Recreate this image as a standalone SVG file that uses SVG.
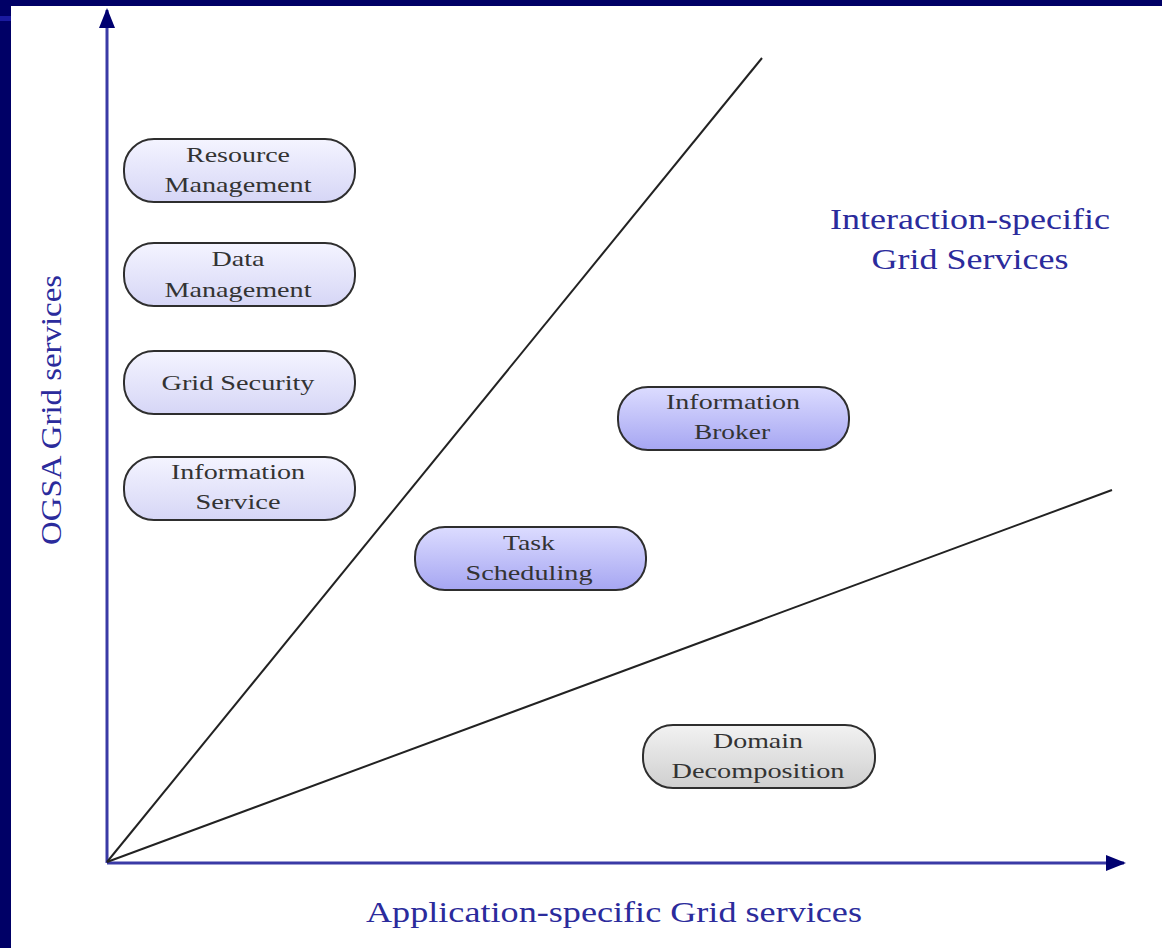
<svg xmlns="http://www.w3.org/2000/svg" width="1162" height="948" viewBox="0 0 1162 948">
  <defs>
    <linearGradient id="gLight" x1="0" y1="0" x2="0" y2="1">
      <stop offset="0" stop-color="#f4f4ff"/>
      <stop offset="1" stop-color="#d6d6f6"/>
    </linearGradient>
    <linearGradient id="gBlue" x1="0" y1="0" x2="0" y2="1">
      <stop offset="0" stop-color="#dcdcff"/>
      <stop offset="1" stop-color="#a6a6f2"/>
    </linearGradient>
    <linearGradient id="gGray" x1="0" y1="0" x2="0" y2="1">
      <stop offset="0" stop-color="#f2f2f2"/>
      <stop offset="1" stop-color="#cfcfcf"/>
    </linearGradient>
    <marker id="arrowHead" viewBox="0 0 20 20" refX="18" refY="10" markerWidth="20" markerHeight="20" orient="auto" markerUnits="userSpaceOnUse">
      <path d="M0,2 L20,10 L0,18 z" fill="#000070"/>
    </marker>
  </defs>
  <style>
    .node rect { stroke: #2e2e2e; stroke-width: 2; }
    .node text { font-family: "Liberation Serif", "Times New Roman", serif; font-size: 22px; fill: #333333; text-anchor: middle; }
    .axis { stroke: #3a3aa6; stroke-width: 3; fill: none; }
    .diag { stroke: #222222; stroke-width: 2; fill: none; }
    .label { font-family: "Liberation Serif", "Times New Roman", serif; font-size: 30px; fill: #2b2b9c; text-anchor: middle; }
  </style>

  <!-- page background and frame bands -->
  <rect x="0" y="0" width="1162" height="948" fill="#ffffff"/>
  <rect x="0" y="0" width="1162" height="6" fill="#000066"/>
  <rect x="0" y="0" width="11" height="948" fill="#000066"/>
  <rect x="0" y="16" width="11" height="5" fill="#1a1aa0"/>

  <!-- axes and dividing lines -->
  <g id="connectors">
    <line class="axis" x1="107" y1="863" x2="107" y2="10" marker-end="url(#arrowHead)"/>
    <line class="axis" x1="107" y1="863" x2="1124" y2="863" marker-end="url(#arrowHead)"/>
    <line class="diag" x1="107" y1="862" x2="762" y2="58"/>
    <line class="diag" x1="107" y1="862" x2="1112" y2="490"/>
  </g>

  <!-- axis and region labels -->
  <text class="label" x="614" y="922" textLength="496" lengthAdjust="spacingAndGlyphs">Application-specific Grid services</text>
  <text class="label" transform="translate(61,410) rotate(-90)" textLength="270" lengthAdjust="spacingAndGlyphs">OGSA Grid services</text>
  <text class="label" x="970" y="229" textLength="280" lengthAdjust="spacingAndGlyphs">Interaction-specific</text>
  <text class="label" x="970" y="269" textLength="197" lengthAdjust="spacingAndGlyphs">Grid Services</text>

  <g id="resource-management" class="node">
    <rect x="124" y="139" width="231" height="63" rx="30" fill="url(#gLight)"/>
    <text x="238" y="162" textLength="104" lengthAdjust="spacingAndGlyphs">Resource</text>
    <text x="238" y="192" textLength="147" lengthAdjust="spacingAndGlyphs">Management</text>
  </g>
  <g id="data-management" class="node">
    <rect x="124" y="243" width="231" height="63" rx="30" fill="url(#gLight)"/>
    <text x="238" y="266" textLength="53" lengthAdjust="spacingAndGlyphs">Data</text>
    <text x="238" y="297" textLength="147" lengthAdjust="spacingAndGlyphs">Management</text>
  </g>
  <g id="grid-security" class="node">
    <rect x="124" y="351" width="231" height="63" rx="30" fill="url(#gLight)"/>
    <text x="238" y="390" textLength="153" lengthAdjust="spacingAndGlyphs">Grid Security</text>
  </g>
  <g id="information-service" class="node">
    <rect x="124" y="457" width="231" height="63" rx="30" fill="url(#gLight)"/>
    <text x="238" y="479" textLength="134" lengthAdjust="spacingAndGlyphs">Information</text>
    <text x="238" y="509" textLength="85" lengthAdjust="spacingAndGlyphs">Service</text>
  </g>
  <g id="information-broker" class="node">
    <rect x="618" y="387" width="231" height="63" rx="30" fill="url(#gBlue)"/>
    <text x="733" y="409" textLength="134" lengthAdjust="spacingAndGlyphs">Information</text>
    <text x="732" y="439" textLength="76" lengthAdjust="spacingAndGlyphs">Broker</text>
  </g>
  <g id="task-scheduling" class="node">
    <rect x="415" y="527" width="231" height="63" rx="30" fill="url(#gBlue)"/>
    <text x="529" y="550" textLength="52" lengthAdjust="spacingAndGlyphs">Task</text>
    <text x="529" y="580" textLength="127" lengthAdjust="spacingAndGlyphs">Scheduling</text>
  </g>
  <g id="domain-decomposition" class="node">
    <rect x="643" y="725" width="232" height="63" rx="30" fill="url(#gGray)"/>
    <text x="758" y="748" textLength="90" lengthAdjust="spacingAndGlyphs">Domain</text>
    <text x="758" y="778" textLength="173" lengthAdjust="spacingAndGlyphs">Decomposition</text>
  </g>
</svg>
